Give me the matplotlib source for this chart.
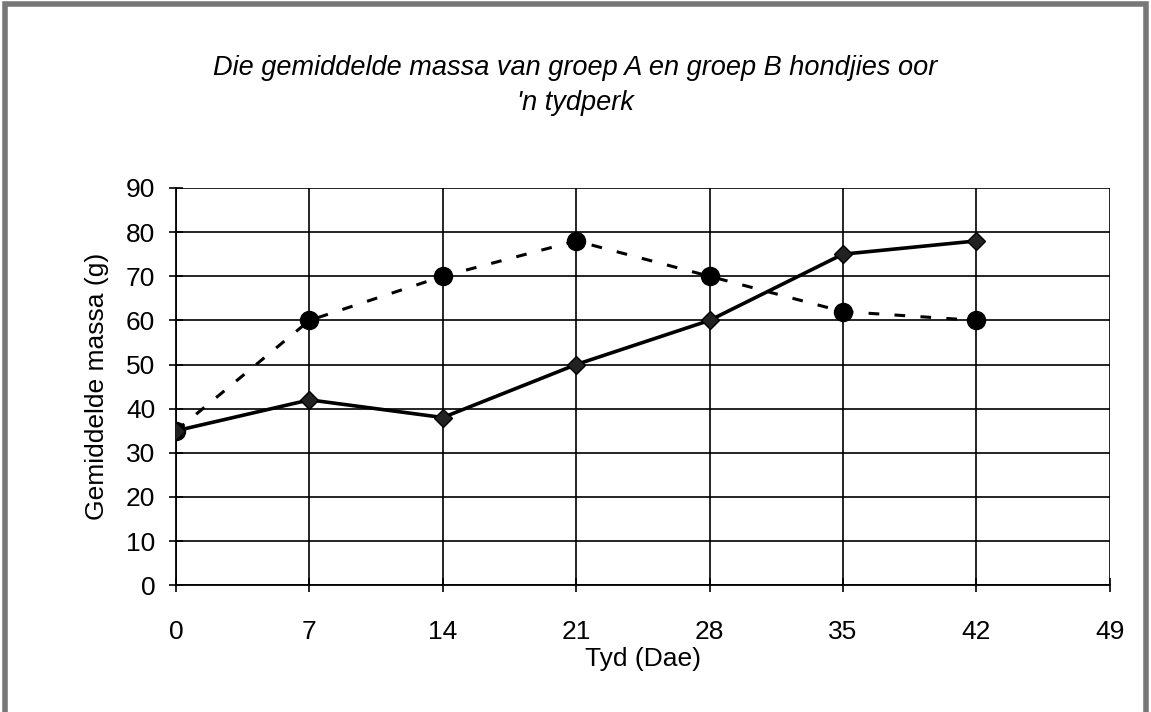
import matplotlib
matplotlib.use("Agg")
import matplotlib.pyplot as plt
from matplotlib.patches import Rectangle

plt.rcParams["font.family"] = ["Liberation Sans", "DejaVu Sans"]

# data
dae = [0, 7, 14, 21, 28, 35, 42]
groep_a = [35, 42, 38, 50, 60, 75, 78]   # solid line, diamonds
groep_b = [35, 60, 70, 78, 70, 62, 60]   # dashed line, circles
x_ticks = [0, 7, 14, 21, 28, 35, 42, 49]
y_ticks = [0, 10, 20, 30, 40, 50, 60, 70, 80, 90]

fig = plt.figure(figsize=(11.51, 7.12), dpi=100)
fig.patch.set_facecolor("white")
ax = fig.add_axes([0.153, 0.178, 0.811, 0.558])

ax.plot(dae, groep_b, color="black", linewidth=2.2, linestyle=(0, (3.5, 5)),
        marker="o", markersize=13, zorder=3)
ax.plot(dae, groep_a, color="black", linewidth=2.6, linestyle="-",
        marker="D", markersize=9, markerfacecolor="#222222", zorder=4)

ax.set_xlim(0, 49)
ax.set_ylim(0, 90)
ax.set_xticks(x_ticks)
ax.set_yticks(y_ticks)
ax.grid(True, color="black", linewidth=1.2)
ax.set_axisbelow(True)
for side in ("top", "right"):
    ax.spines[side].set_visible(False)
ax.spines["left"].set_linewidth(1.3)
ax.spines["bottom"].set_linewidth(1.3)
ax.tick_params(axis="both", direction="inout", length=10, width=1.2,
               labelsize=19, pad=10)
ax.tick_params(axis="x", pad=20)

ax.set_xlabel("Tyd (Dae)", fontsize=19, labelpad=2)
ax.set_ylabel("Gemiddelde massa (g)", fontsize=19, labelpad=12)

fig.text(0.5, 0.904, "Die gemiddelde massa van groep A en groep B hondjies oor",
         ha="center", va="center", fontsize=19.5, style="italic")
fig.text(0.5, 0.855, "'n tydperk", ha="center", va="center",
         fontsize=19.5, style="italic")

# grey frame around the picture
fig.add_artist(Rectangle((0.004, -0.01), 0.992, 1.004, transform=fig.transFigure,
                         fill=False, edgecolor="#777777", linewidth=4))

fig.savefig("out.png", dpi=100, facecolor="white")
